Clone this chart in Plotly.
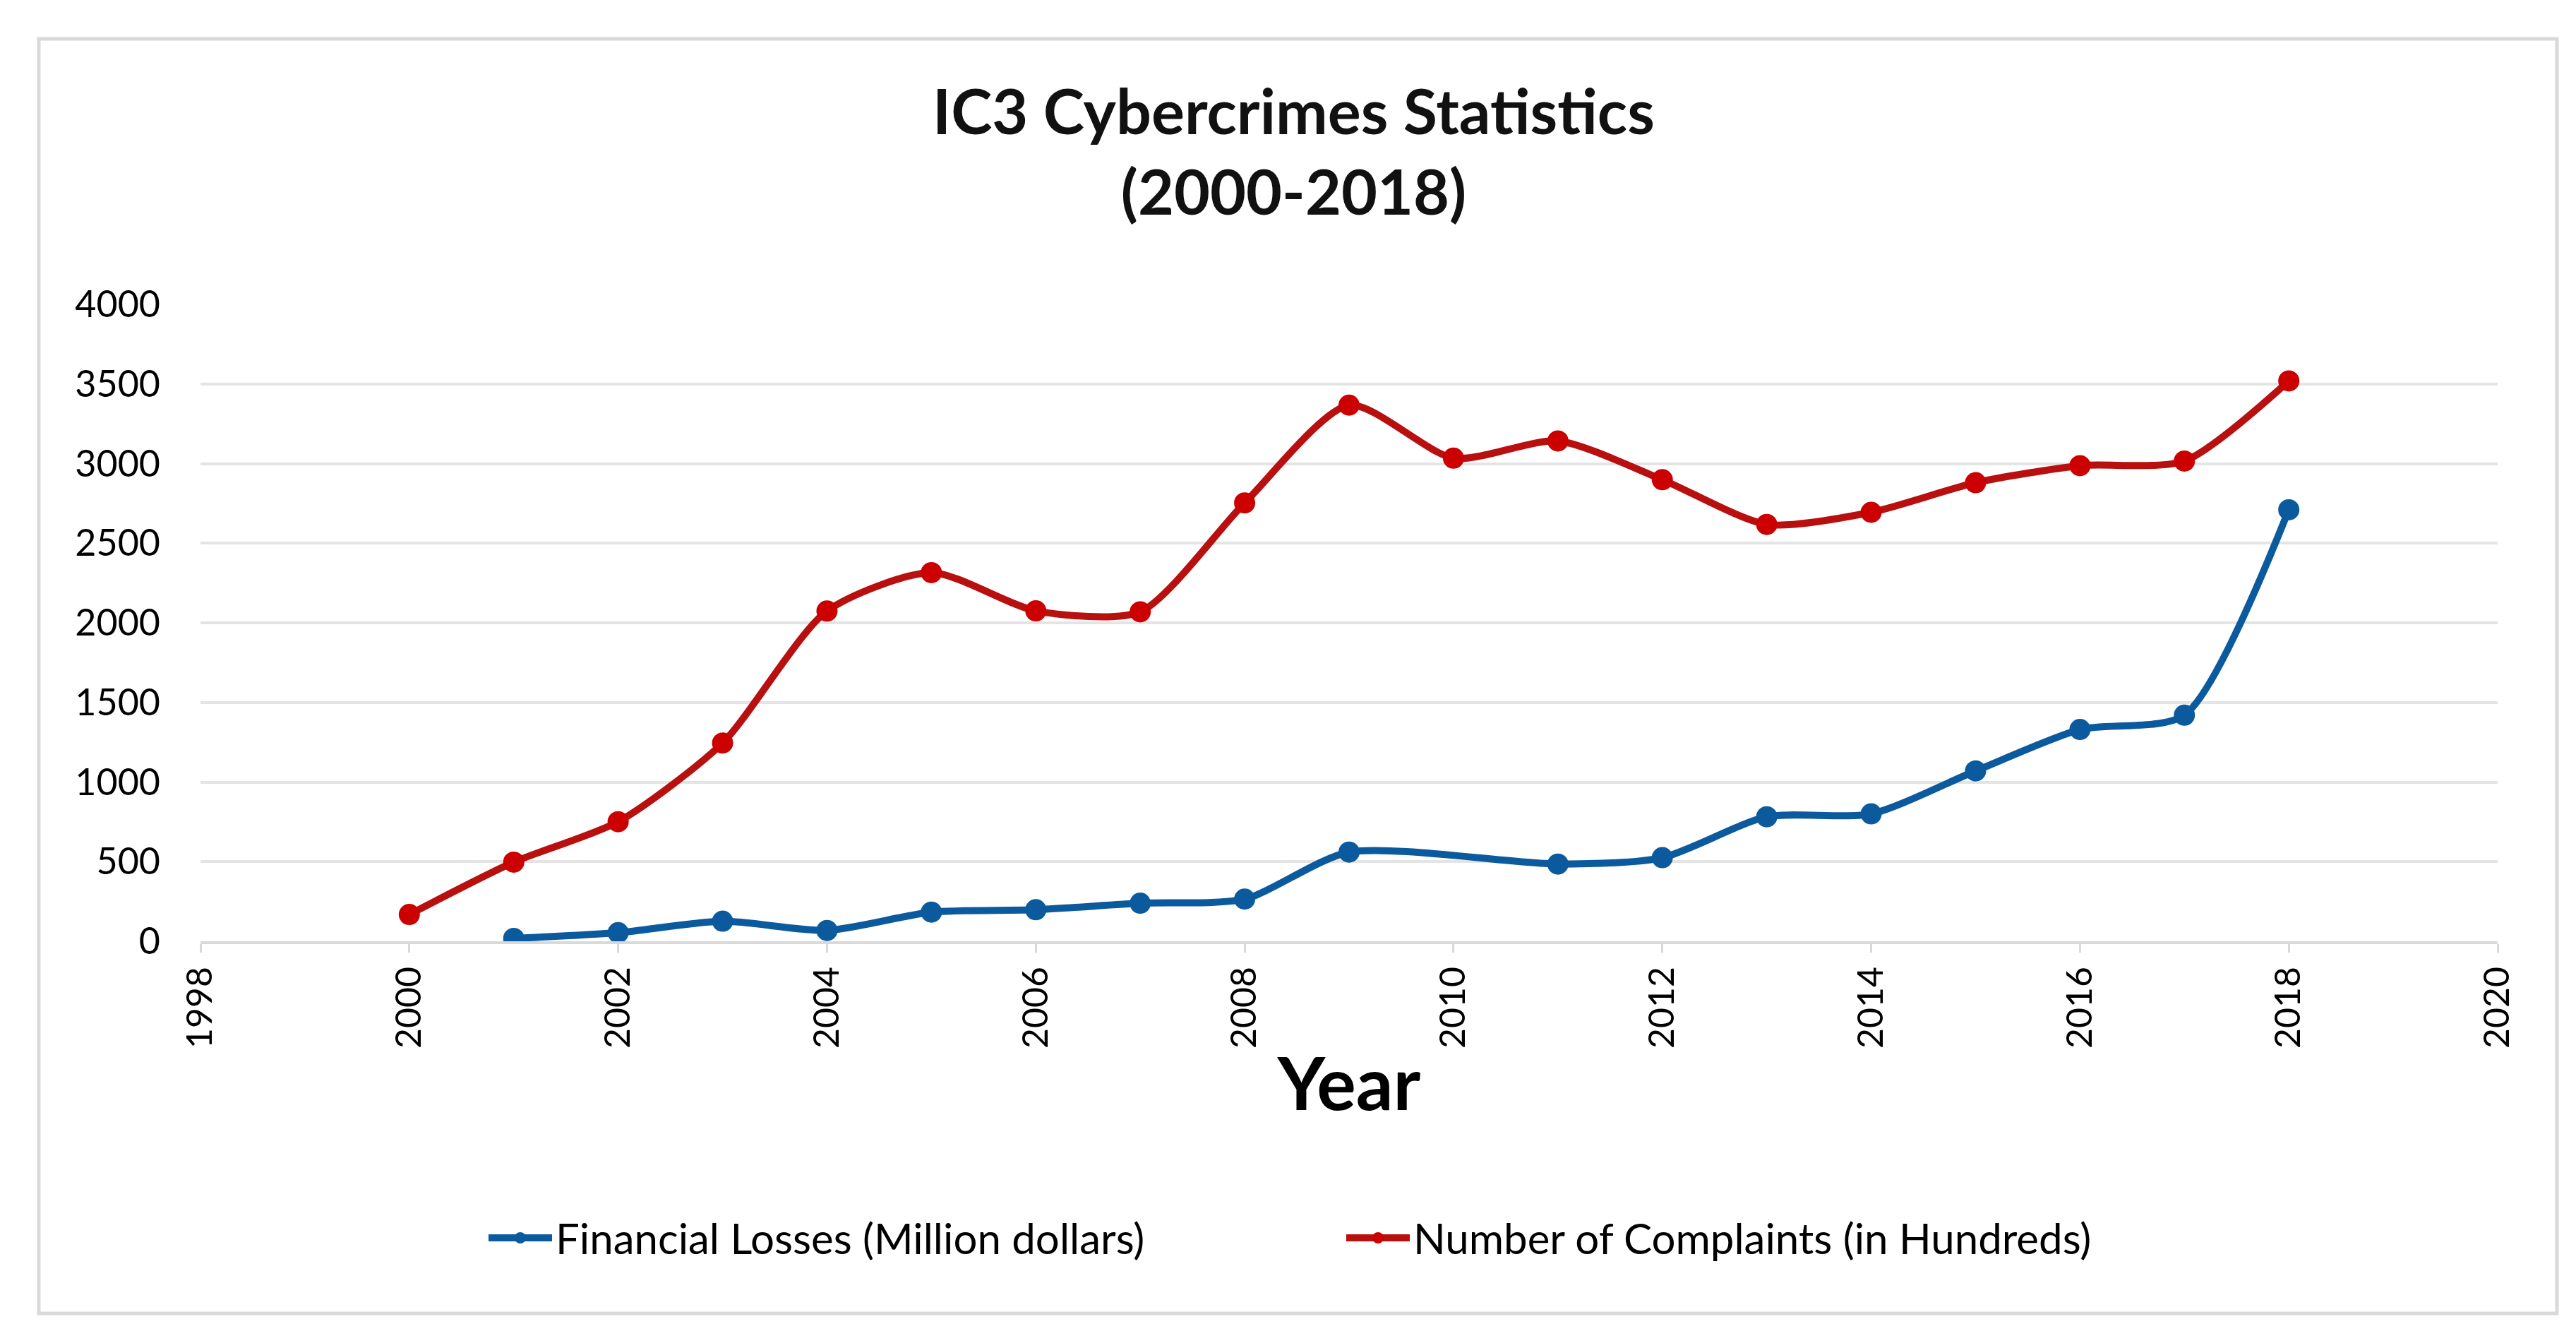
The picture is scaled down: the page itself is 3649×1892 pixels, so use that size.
import plotly.graph_objects as go

# IC3 yearly figures
loss_years = [2001, 2002, 2003, 2004, 2005, 2006, 2007, 2008, 2009,
              2011, 2012, 2013, 2014, 2015, 2016, 2017, 2018]
losses = [18, 54, 126, 68, 183, 198, 239, 265, 560,
          485, 525, 782, 800, 1070, 1330, 1420, 2710]

complaint_years = list(range(2000, 2019))
complaints = [168, 497, 751, 1245, 2074, 2315, 2075, 2069, 2753, 3367,
              3034, 3142, 2899, 2618, 2694, 2880, 2987, 3016, 3519]

x_ticks = list(range(1998, 2021, 2))
y_ticks = list(range(0, 4001, 500))

W, H = 3649, 1892
L, R, T, B = 276, 119, 423, 567
pw, ph = W - L - R, H - T - B

font = "Lato, Arial, sans-serif"

fig = go.Figure()

fig.add_trace(go.Scatter(
    x=loss_years, y=losses,
    name='Financial Losses (Million dollars)',
    mode='lines+markers',
    line=dict(color='#0B5A9E', width=10, shape='spline', smoothing=0.7),
    marker=dict(color='#0B5A9E', size=30, symbol='circle'),
))

fig.add_trace(go.Scatter(
    x=complaint_years, y=complaints,
    name='Number of Complaints (in Hundreds)',
    mode='lines+markers',
    line=dict(color='#B80F0F', width=10, shape='spline', smoothing=0.7),
    marker=dict(color='#CC0000', size=30, symbol='circle'),
))

# light outer frame around the chart
fig.add_shape(
    type='rect', xref='paper', yref='paper',
    x0=(47 - L) / pw, x1=(3614 - L) / pw,
    y0=(H - B - 1852) / ph, y1=(H - B - 47) / ph,
    line=dict(color='#D9D9D9', width=5), layer='below',
)

fig.update_layout(
    width=W, height=H,
    margin=dict(l=L, r=R, t=T, b=B),
    paper_bgcolor='white',
    plot_bgcolor='white',
    font=dict(family=font, color='black'),
    title=dict(
        text='<b>IC3 Cybercrimes Statistics<br>(2000-2018)</b>',
        x=0.5, xanchor='center',
        y=1 - 182 / H, yanchor='top',
        font=dict(size=88, family=font, color='#111111'),
    ),
    legend=dict(
        orientation='h',
        x=(1894 - L) / pw, xanchor='center',
        y=(H - B - 1745) / ph, yanchor='middle',
        font=dict(size=60, family=font),
        itemwidth=90,
        entrywidth=1110,
        tracegroupgap=0,
    ),
    showlegend=True,
)

fig.update_xaxes(
    range=[1998, 2020],
    tickvals=x_ticks,
    ticktext=[str(v) for v in x_ticks],
    tickangle=-90,
    tickfont=dict(size=50, family=font),
    ticks='outside', ticklen=12, tickcolor='#D9D9D9', tickwidth=3,
    showgrid=False,
    showline=True, linecolor='#D9D9D9', linewidth=4,
    zeroline=False,
    title=dict(text='<b>Year</b>', font=dict(size=104, family=font), standoff=16),
)

fig.update_yaxes(
    range=[0, 4000],
    tickvals=y_ticks,
    tickfont=dict(size=52, family=font),
    showgrid=True, gridcolor='#E4E4E4', gridwidth=4,
    zeroline=False,
    ticklabelstandoff=56,
)

fig.write_html('out.html')
